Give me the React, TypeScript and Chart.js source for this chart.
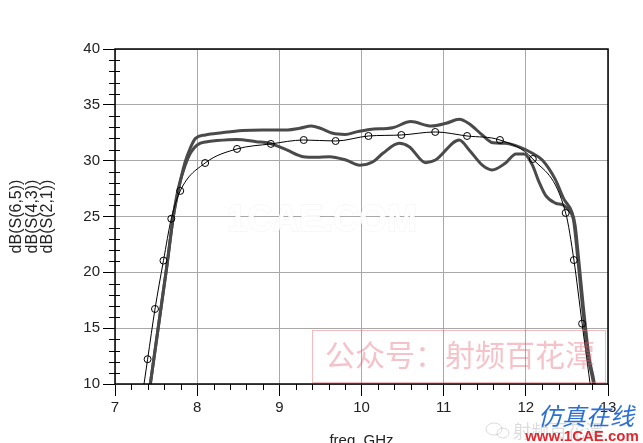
import React, { useEffect, useRef } from 'react';
import { Chart, registerables } from 'chart.js';

Chart.register(...registerables);

// ---- data ----
// thin trace with circle markers
const freqS21 = [7.30, 7.397, 7.487, 7.59, 7.685, 7.794, 8.097, 8.485, 8.897, 9.297, 9.685, 10.085, 10.485, 10.897, 11.285, 11.685, 12.085, 12.485, 12.585, 12.685, 12.85];
const dbS21 = [7.3, 12.22, 16.72, 21.05, 24.8, 27.29, 29.79, 31.05, 31.5, 31.85, 31.76, 32.21, 32.3, 32.57, 32.21, 31.85, 30.15, 25.32, 21.1, 15.4, 6.3];

// thick upper trace
const freqS65 = [7.38, 7.43, 7.63, 7.71, 7.77, 7.85, 7.92, 7.98, 8.1, 8.3, 8.55, 8.8, 9.1, 9.25, 9.39, 9.5, 9.65, 9.8, 9.95, 10.1, 10.38, 10.6, 10.85, 11.03, 11.19, 11.31, 11.47, 11.6, 11.75, 11.91, 12.08, 12.2, 12.36, 12.46, 12.56, 12.6, 12.64, 12.7, 12.77, 12.83, 12.87];
const dbS65 = [7.5, 10, 20.5, 25, 27.3, 29.8, 31.2, 32.0, 32.3, 32.5, 32.7, 32.75, 32.75, 32.9, 33.1, 32.9, 32.45, 32.35, 32.6, 32.8, 32.95, 33.5, 33.1, 33.35, 33.7, 33.3, 32.3, 31.6, 31.55, 31.25, 30.66, 30.06, 28.3, 26.6, 25.4, 24.2, 21.4, 16.9, 12.4, 10.2, 8.0];

// thick wavy trace
const freqS43 = [7.38, 7.43, 7.63, 7.71, 7.77, 7.85, 7.92, 8.0, 8.12, 8.24, 8.48, 8.72, 8.88, 9.09, 9.29, 9.45, 9.61, 9.81, 9.98, 10.14, 10.26, 10.46, 10.58, 10.78, 10.9, 11.19, 11.31, 11.47, 11.59, 11.75, 11.88, 11.98, 12.08, 12.16, 12.24, 12.36, 12.46, 12.54, 12.58, 12.63, 12.69, 12.76, 12.82, 12.86];
const dbS43 = [7.5, 10, 20.5, 25, 27.5, 29.5, 30.7, 31.4, 31.7, 31.8, 31.9, 31.7, 31.56, 30.96, 30.36, 30.3, 30.36, 30.06, 29.6, 29.9, 30.66, 31.56, 31.25, 29.82, 30.06, 31.85, 30.96, 29.6, 29.17, 29.77, 30.6, 30.6, 29.6, 28.1, 26.9, 26.2, 26.0, 25.4, 24.7, 21.4, 16.9, 12.4, 10.2, 8.0];

const yTitle = ['dB(S(6,5))', 'dB(S(4,3))', 'dB(S(2,1))'];
const xTitle = 'freq, GHz';
const X_MIN = 7, X_MAX = 13, Y_MIN = 10, Y_MAX = 40;

const FONT = '"Liberation Sans", Arial, sans-serif';

const pts = (xs: number[], ys: number[]) => xs.map((x, i) => ({ x, y: ys[i] }));

const decor = {
  id: 'decor',
  afterDraw(chart: any) {
    const { ctx, chartArea: a, scales } = chart;
    const xs = scales.x, ys = scales.y;
    ctx.save();
    // minor ticks
    ctx.strokeStyle = '#000';
    ctx.lineWidth = 1;
    ctx.beginPath();
    for (let v = Y_MIN + 1; v < Y_MAX; v++) {
      if (v % 5 === 0) continue;
      const py = Math.round(ys.getPixelForValue(v)) + 0.5;
      ctx.moveTo(a.left - 6, py);
      ctx.lineTo(a.left + 5, py);
    }
    for (let k = 1; k < (X_MAX - X_MIN) * 5; k++) {
      if (k % 5 === 0) continue;
      const px = Math.round(xs.getPixelForValue(X_MIN + k * 0.2)) + 0.5;
      ctx.moveTo(px, a.bottom);
      ctx.lineTo(px, a.bottom + 6);
    }
    ctx.stroke();
    // frame
    ctx.lineWidth = 1.5;
    ctx.strokeRect(a.left, a.top, a.right - a.left, a.bottom - a.top);

    // watermark 1CAE.COM
    ctx.textAlign = 'center';
    ctx.textBaseline = 'middle';
    ctx.font = `bold 36px ${FONT}`;
    ctx.lineWidth = 2;
    ctx.strokeStyle = 'rgba(0,0,0,0.03)';
    ctx.strokeText('1CAE.COM', 322, 221);
    ctx.fillStyle = 'rgba(255,255,255,0.9)';
    ctx.fillText('1CAE.COM', 322, 221);

    // red boxed watermark
    ctx.lineWidth = 1;
    ctx.strokeStyle = 'rgba(230,120,130,0.5)';
    ctx.strokeRect(312.5, 330.5, 293, 52);
    ctx.font = '30px "Noto Sans CJK SC"';
    ctx.fillStyle = 'rgba(225,95,110,0.38)';
    ctx.fillText('公众号：射频百花潭', 460, 355);

    // bottom-right marks
    ctx.font = '18px "Noto Sans CJK SC"';
    ctx.fillStyle = 'rgba(0,0,0,0.14)';
    ctx.fillText('射频百花潭', 558, 431);
    ctx.strokeStyle = 'rgba(0,0,0,0.14)';
    ctx.beginPath();
    ctx.ellipse(494, 429, 8, 6, 0, 0, Math.PI * 2);
    ctx.stroke();
    ctx.beginPath();
    ctx.ellipse(503, 433, 6, 5, 0, 0, Math.PI * 2);
    ctx.stroke();

    ctx.font = 'italic 24px "Noto Sans CJK SC"';
    ctx.fillStyle = '#2b6fd4';
    ctx.fillText('仿真在线', 586, 416);
    ctx.font = `bold 15px ${FONT}`;
    ctx.fillStyle = '#e0282e';
    ctx.fillText('www.1CAE.com', 582, 437);
    ctx.restore();
  },
};

export default function App() {
  const ref = useRef<HTMLCanvasElement | null>(null);
  useEffect(() => {
    document.body.style.margin = '0';
    const canvas = ref.current!;
    const chart = new Chart(canvas, {
      type: 'line',
      data: {
        datasets: [
          {
            label: yTitle[2],
            data: pts(freqS21, dbS21),
            borderColor: '#000',
            borderWidth: 1,
            pointRadius: freqS21.map((_, i) => (i === 0 || i === freqS21.length - 1 ? 0 : 3.5)),
            pointBorderColor: '#000',
            pointBorderWidth: 1,
            pointBackgroundColor: 'rgba(0,0,0,0)',
            cubicInterpolationMode: 'monotone',
            order: 0,
          },
          {
            label: yTitle[0],
            data: pts(freqS65, dbS65),
            borderColor: '#4a4a4a',
            borderWidth: 3,
            pointRadius: 0,
            cubicInterpolationMode: 'monotone',
            order: 1,
          },
          {
            label: yTitle[1],
            data: pts(freqS43, dbS43),
            borderColor: '#4a4a4a',
            borderWidth: 3,
            pointRadius: 0,
            cubicInterpolationMode: 'monotone',
            order: 2,
          },
        ],
      },
      options: {
        responsive: false,
        animation: false,
        devicePixelRatio: 1,
        layout: { padding: { top: 49, right: 35, left: 0, bottom: 0 } },
        plugins: { legend: { display: false }, tooltip: { enabled: false } },
        scales: {
          x: {
            type: 'linear',
            min: X_MIN,
            max: X_MAX,
            afterFit: (s: any) => { s.height = 59; },
            ticks: { stepSize: 1, autoSkip: false, maxRotation: 0, color: '#222', font: { family: FONT, size: 15 }, padding: 3 },
            grid: { color: '#a8a8a8', tickColor: '#000', tickLength: 12, lineWidth: 1 },
            border: { display: false },
            title: { display: true, text: xTitle, color: '#222', font: { family: FONT, size: 15 }, padding: { top: 0, bottom: -7 } },
          },
          y: {
            min: Y_MIN,
            max: Y_MAX,
            afterFit: (s: any) => { s.width = 115; },
            ticks: { stepSize: 5, autoSkip: false, color: '#222', font: { family: FONT, size: 15 }, padding: 3 },
            grid: { color: '#a8a8a8', tickColor: '#000', tickLength: 12, lineWidth: 1 },
            border: { display: false },
            title: { display: true, text: yTitle, color: '#222', font: { family: FONT, size: 16, lineHeight: 0.97 }, padding: { top: 9, bottom: 0 } },
          },
        },
      },
      plugins: [decor],
    } as any);
    return () => chart.destroy();
  }, []);
  return (
    <div style={{ position: 'fixed', left: 0, top: 0, width: 643, height: 443, background: '#fff' }}>
      <canvas ref={ref} width={643} height={443} style={{ display: 'block' }} />
    </div>
  );
}
